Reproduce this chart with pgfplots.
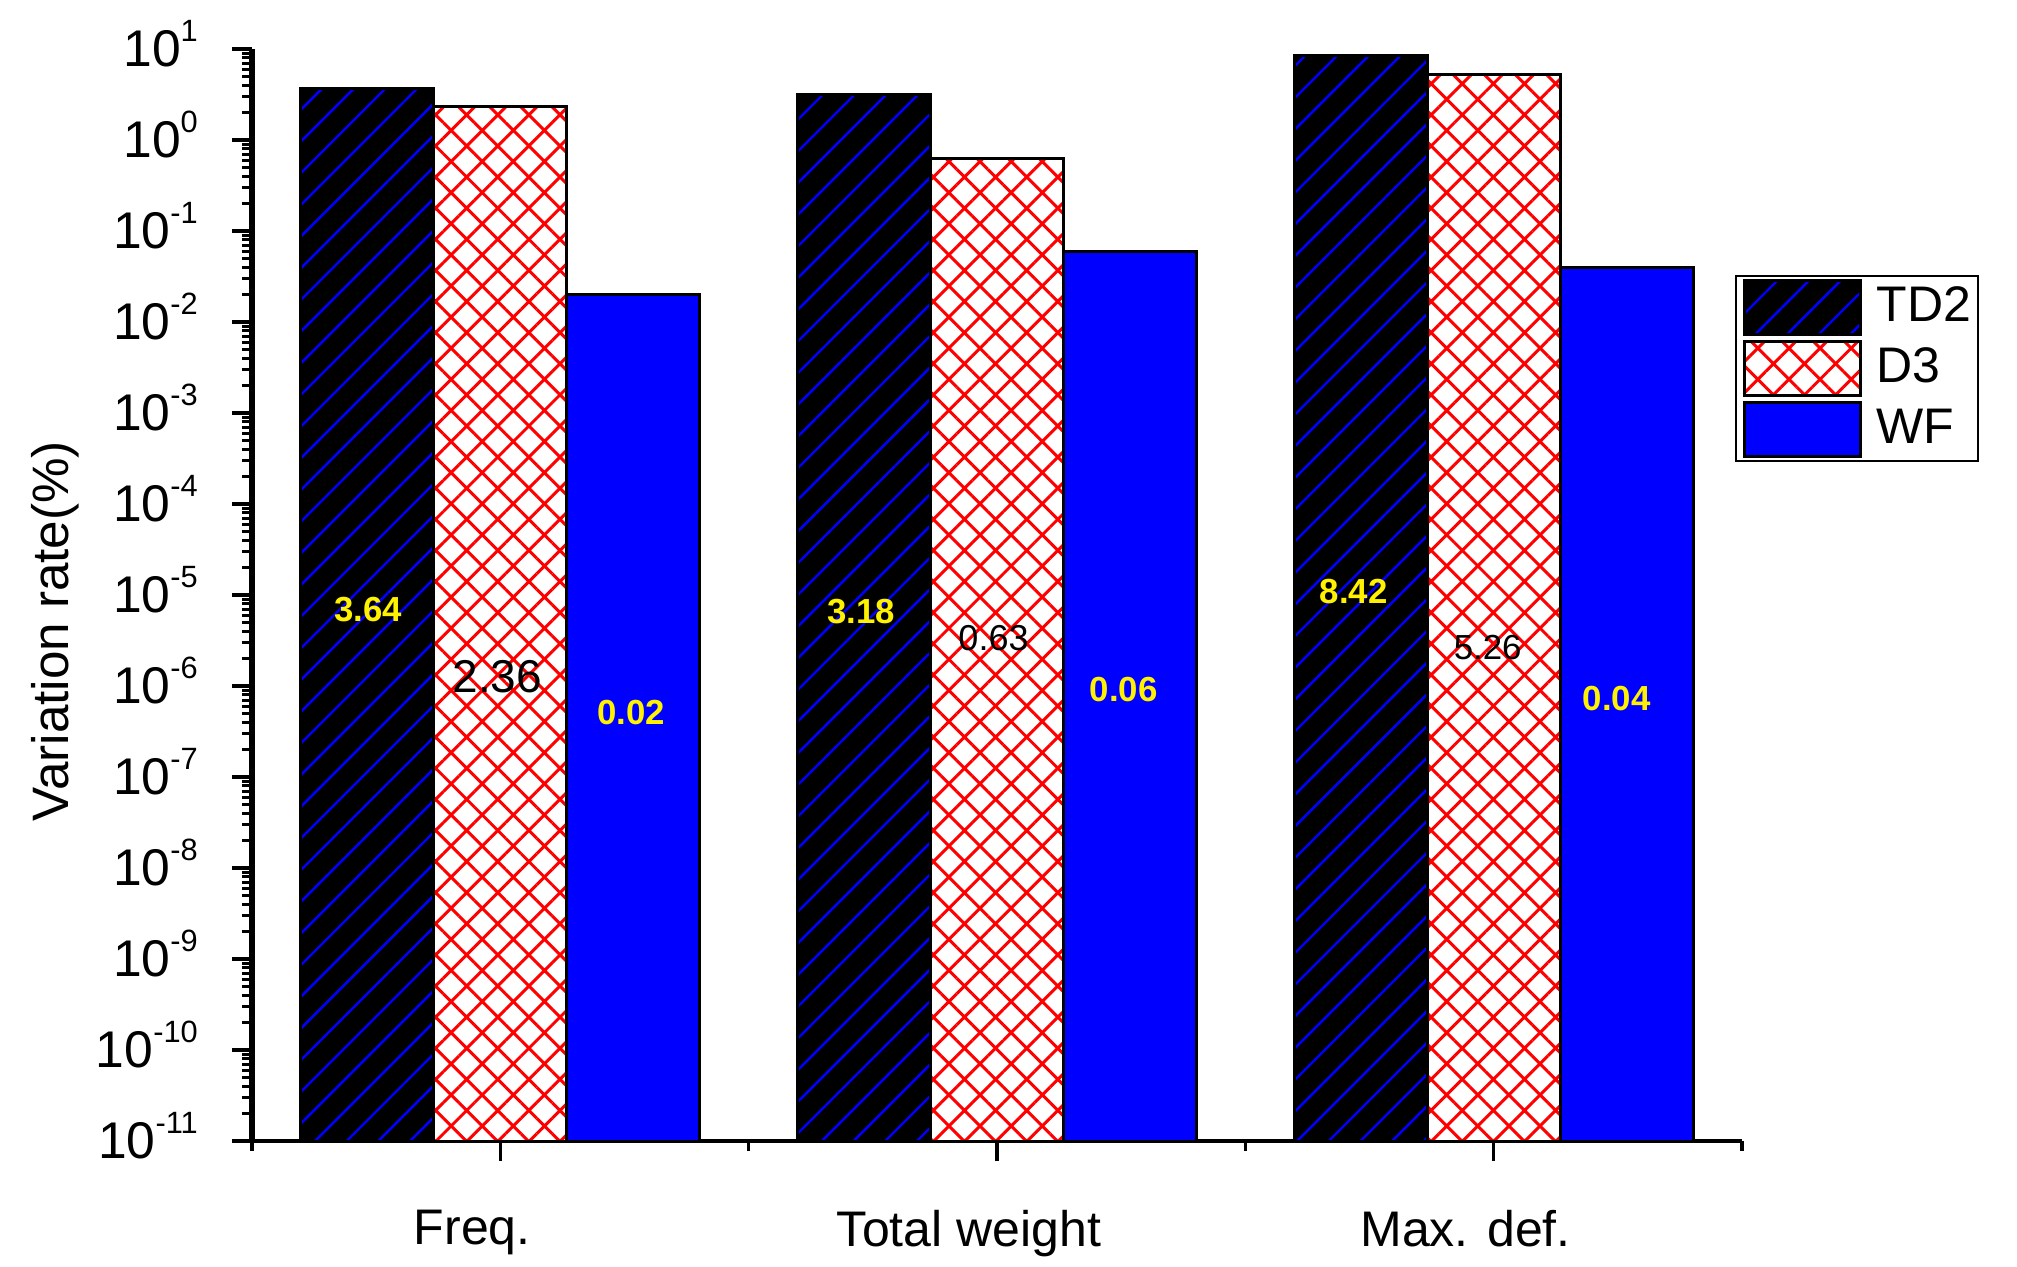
\documentclass[border=0pt]{standalone}
\usepackage{fontspec}
\setmainfont{Liberation Sans}
\usepackage{pgfplots}
\pgfplotsset{compat=1.18}
\usetikzlibrary{patterns.meta}
\newcommand\tsup[1]{\raisebox{6.25pt}[0pt][0pt]{\fontsize{7.7}{8}\selectfont #1}}
\begin{document}
\begin{tikzpicture}
\path[use as bounding box] (0,0) rectangle (504.25pt,316.5pt);
\begin{axis}[
  at={(63pt,31.25pt)}, anchor=south west,
  scale only axis, width=372.5pt, height=273pt,
  ymode=log, log origin y=infty,
  ymin=1e-11, ymax=1e1, xmin=0.5, xmax=3.5,
  axis x line=bottom, axis y line=left, axis line style={-},
  x axis line style={line width=0.9pt}, y axis line style={line width=1.6pt},
  tick align=outside, major tick length=5pt, minor tick length=2.5pt,
  tick style={black, line width=0.8pt},
  xtick={1,2,3}, xticklabels={Freq.,Total weight,Max. def.},
  minor xtick={0.5,1.5,2.5,3.5},
  xticklabel style={font=\fontsize{12.5}{14}\selectfont, xshift=-7pt, yshift=-8.7pt},
  ytick={1e-11,1e-10,1e-9,1e-8,1e-7,1e-6,1e-5,1e-4,1e-3,1e-2,1e-1,1,10},
  yticklabels={10\tsup{-11},10\tsup{-10},10\tsup{-9},10\tsup{-8},10\tsup{-7},10\tsup{-6},10\tsup{-5},10\tsup{-4},10\tsup{-3},10\tsup{-2},10\tsup{-1},10\tsup{0},10\tsup{1}},
  yticklabel style={font=\fontsize{12.9}{15}\selectfont, xshift=-5pt},
  minor ytick={2e-11,3e-11,4e-11,5e-11,6e-11,7e-11,8e-11,9e-11,
    2e-10,3e-10,4e-10,5e-10,6e-10,7e-10,8e-10,9e-10,
    2e-9,3e-9,4e-9,5e-9,6e-9,7e-9,8e-9,9e-9,
    2e-8,3e-8,4e-8,5e-8,6e-8,7e-8,8e-8,9e-8,
    2e-7,3e-7,4e-7,5e-7,6e-7,7e-7,8e-7,9e-7,
    2e-6,3e-6,4e-6,5e-6,6e-6,7e-6,8e-6,9e-6,
    2e-5,3e-5,4e-5,5e-5,6e-5,7e-5,8e-5,9e-5,
    2e-4,3e-4,4e-4,5e-4,6e-4,7e-4,8e-4,9e-4,
    2e-3,3e-3,4e-3,5e-3,6e-3,7e-3,8e-3,9e-3,
    2e-2,3e-2,4e-2,5e-2,6e-2,7e-2,8e-2,9e-2,
    0.2,0.3,0.4,0.5,0.6,0.7,0.8,0.9,
    2,3,4,5,6,7,8,9},
  ylabel={Variation rate(\%)},
  ylabel style={at={(rel axis cs:-0.1322,0.467)}, anchor=center, font=\fontsize{12.8}{15}\selectfont},
  ybar, bar width=0.268,
  legend style={at={(rel axis cs:0.9953,0.793)}, anchor=north west, draw=black, line width=0.4pt,
    inner xsep=1.75pt, inner ysep=0.75pt, row sep=1pt, column sep=3.75pt,
    nodes={inner sep=0pt, anchor=west}, font=\fontsize{12.5}{14}\selectfont},
  legend cell align=left,
  legend image code/.code={\draw[#1, line width=0.75pt] (0pt,-6.75pt) rectangle (29pt,6.75pt);},
]
\addplot[bar shift=0pt, draw=black, line width=0.75pt,
  preaction={fill=black},
  pattern={Lines[angle=45,distance=5.6pt,line width=0.6pt]}, pattern color=blue]
  coordinates {(0.732,3.64) (1.732,3.18) (2.732,8.42)};
\addlegendentry{TD2}
\addplot[bar shift=0pt, draw=black, line width=0.75pt,
  preaction={fill=white},
  pattern={Hatch[angle=45,distance=5.5pt,line width=0.75pt]}, pattern color=red]
  coordinates {(1,2.36) (2,0.63) (3,5.26)};
\addlegendentry{D3}
\addplot[bar shift=0pt, fill=blue, draw=black, line width=0.75pt]
  coordinates {(1.268,0.02) (2.268,0.06) (3.268,0.04)};
\addlegendentry{WF}
\node[font=\bfseries\fontsize{8.7}{10}\selectfont, text=yellow] at (axis cs:0.734,7.01e-6) {3.64};
\node[font=\fontsize{11.5}{13}\selectfont, text=black] at (axis cs:0.994,1.256e-6) {2.36};
\node[font=\bfseries\fontsize{8.7}{10}\selectfont, text=yellow] at (axis cs:1.263,5.05e-7) {0.02};
\node[font=\bfseries\fontsize{8.7}{10}\selectfont, text=yellow] at (axis cs:1.727,6.50e-6) {3.18};
\node[font=\fontsize{9}{10}\selectfont, text=black] at (axis cs:1.993,3.37e-6) {0.63};
\node[font=\bfseries\fontsize{8.7}{10}\selectfont, text=yellow] at (axis cs:2.255,9.04e-7) {0.06};
\node[font=\bfseries\fontsize{8.7}{10}\selectfont, text=yellow] at (axis cs:2.718,1.079e-5) {8.42};
\node[font=\fontsize{8.7}{10}\selectfont, text=black] at (axis cs:2.988,2.62e-6) {5.26};
\node[font=\bfseries\fontsize{8.7}{10}\selectfont, text=yellow] at (axis cs:3.248,7.38e-7) {0.04};
\end{axis}
\end{tikzpicture}
\end{document}
